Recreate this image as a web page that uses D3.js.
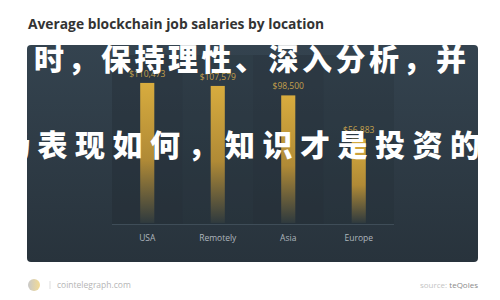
<!DOCTYPE html>
<html>
<head>
<meta charset="utf-8">
<script src="https://cdn.jsdelivr.net/npm/d3@7"></script>
<style>
  body { margin: 0; background: #fff; }
  svg { display: block; }
</style>
</head>
<body>
<div id="chart"></div>
<script>
const W = 500, H = 300;
const panel = { x: 27, y: 45, w: 451, h: 217 };

const categories = ["USA", "Remotely", "Asia", "Europe"];
const salaries = [110473, 107579, 98500, 56883];
const overlayLines = ["时，保持理性、深入分析，并", "场表现如何，知识才是投资的"];
const titleText = "Average blockchain job salaries by location";
const siteText = "cointelegraph.com";
const sourceLabel = "source:";
const sourceName = "teQoles";

const data = categories.map((c, i) => ({ cat: c, value: salaries[i] }));

const svg = d3.select("#chart")
    .append("svg")
    .attr("width", W)
    .attr("height", H);

const defs = svg.append("defs");

const panelGrad = defs.append("linearGradient")
    .attr("id", "panelGrad")
    .attr("x1", 0).attr("y1", 0).attr("x2", 0).attr("y2", 1);
panelGrad.append("stop").attr("offset", "0%").attr("stop-color", "#34434f");
panelGrad.append("stop").attr("offset", "100%").attr("stop-color", "#28333c");

const barGrad = defs.append("linearGradient")
    .attr("id", "barGrad")
    .attr("x1", 0).attr("y1", 0).attr("x2", 0).attr("y2", 1);
barGrad.append("stop").attr("offset", "0%").attr("stop-color", "#d8ac3e");
barGrad.append("stop").attr("offset", "55%").attr("stop-color", "#b08a36");
barGrad.append("stop").attr("offset", "100%").attr("stop-color", "#2f3a3e");

// title
svg.append("text")
    .attr("x", 28)
    .attr("y", 29)
    .style("font-family", "'Open Sans', sans-serif")
    .style("font-weight", 700)
    .style("font-size", "13.8px")
    .style("fill", "#333")
    .text(titleText);

// dark panel
svg.append("rect")
    .attr("x", panel.x)
    .attr("y", panel.y)
    .attr("width", panel.w)
    .attr("height", panel.h)
    .attr("rx", 4)
    .attr("fill", "url(#panelGrad)");

const x = d3.scaleBand()
    .domain(categories)
    .range([112, 394])
    .paddingInner(0.8)
    .paddingOuter(0.4);

const y = d3.scaleLinear()
    .domain([-24000, 120000])
    .range([223, 73]);

const step = x.step();
const gap = (step - x.bandwidth()) / 2;

// column bands behind the bars
svg.selectAll(".col")
    .data(data)
    .enter()
    .append("rect")
    .attr("class", "col")
    .attr("x", d => x(d.cat) - gap)
    .attr("y", 55)
    .attr("width", step)
    .attr("height", y.range()[0] + 1 - 55)
    .attr("fill", "#1c252c")
    .attr("opacity", (d, i) => i % 2 ? 0.18 : 0.28);

// baseline
svg.append("line")
    .attr("x1", x.range()[0])
    .attr("x2", x.range()[1])
    .attr("y1", y.range()[0] + 1.5)
    .attr("y2", y.range()[0] + 1.5)
    .attr("stroke", "#3f4d58")
    .attr("stroke-width", 1);

svg.selectAll(".bar")
    .data(data)
    .enter()
    .append("rect")
    .attr("class", "bar")
    .attr("x", d => x(d.cat))
    .attr("y", d => y(d.value))
    .attr("width", x.bandwidth())
    .attr("height", d => y.range()[0] - y(d.value))
    .attr("fill", "url(#barGrad)");

svg.selectAll(".val")
    .data(data)
    .enter()
    .append("text")
    .attr("class", "val")
    .attr("x", d => x(d.cat) + x.bandwidth() / 2)
    .attr("y", d => y(d.value) - 6)
    .attr("text-anchor", "middle")
    .style("font-family", "'Open Sans', sans-serif")
    .style("font-size", "8.5px")
    .style("fill", "#c4a04c")
    .text(d => d3.format("$,")(d.value));

const xAxis = svg.append("g")
    .attr("transform", `translate(0,${y.range()[0] + 2})`)
    .call(d3.axisBottom(x).tickSize(0).tickPadding(10));
xAxis.select(".domain").remove();
xAxis.selectAll("text")
    .style("font-family", "'Open Sans', sans-serif")
    .style("font-size", "8.5px")
    .style("fill", "#aeb6bd");

// overlay text
svg.append("text")
    .attr("x", 34)
    .attr("y", 70)
    .attr("textLength", 432)
    .attr("lengthAdjust", "spacing")
    .style("font-family", "'Noto Sans CJK SC', sans-serif")
    .style("font-weight", 900)
    .style("font-size", "30px")
    .style("fill", "#fff")
    .text(overlayLines[0]);

svg.append("text")
    .attr("x", 0)
    .attr("y", 156)
    .attr("textLength", 480)
    .attr("lengthAdjust", "spacing")
    .style("font-family", "'Noto Sans CJK SC', sans-serif")
    .style("font-weight", 900)
    .style("font-size", "30px")
    .style("fill", "#fff")
    .text(overlayLines[1]);

// covering white margins so overlay text only shows on the panel
svg.append("rect").attr("x", 0).attr("y", 40).attr("width", panel.x).attr("height", 230).attr("fill", "#fff");
svg.append("rect").attr("x", panel.x + panel.w).attr("y", 40).attr("width", W - panel.x - panel.w).attr("height", 230).attr("fill", "#fff");

// footer
const logo = defs.append("linearGradient")
    .attr("id", "logoGrad")
    .attr("x1", 0).attr("y1", 0).attr("x2", 1).attr("y2", 0);
logo.append("stop").attr("offset", "0%").attr("stop-color", "#bbb");
logo.append("stop").attr("offset", "100%").attr("stop-color", "#f0d27a");

svg.append("circle")
    .attr("cx", 34)
    .attr("cy", 285)
    .attr("r", 6)
    .attr("fill", "url(#logoGrad)")
    .attr("opacity", 0.8);

svg.append("line")
    .attr("x1", 50).attr("x2", 50)
    .attr("y1", 281).attr("y2", 289)
    .attr("stroke", "#ddd");

svg.append("text")
    .attr("x", 57)
    .attr("y", 288)
    .style("font-family", "'Open Sans', sans-serif")
    .style("font-size", "8.5px")
    .style("fill", "#b5b5b5")
    .text(siteText);

const src = svg.append("text")
    .attr("x", 478)
    .attr("y", 288)
    .attr("text-anchor", "end")
    .style("font-family", "'Open Sans', sans-serif")
    .style("font-size", "8px");
src.append("tspan").style("fill", "#c4c4c4").text(sourceLabel + " ");
src.append("tspan").style("fill", "#8a8a8a").text(sourceName);
</script>
</body>
</html>
